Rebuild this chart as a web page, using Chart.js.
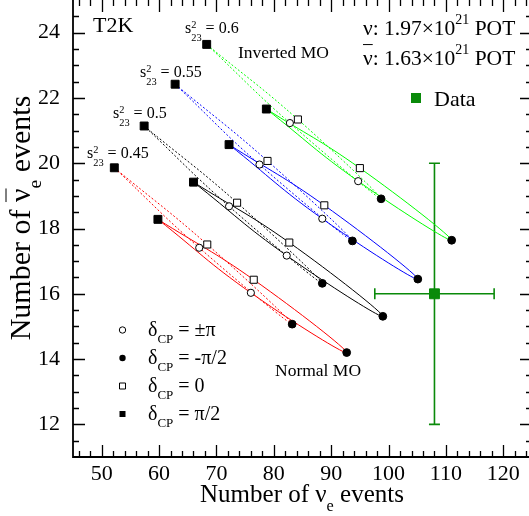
<!DOCTYPE html>
<html>
<head>
<meta charset="utf-8">
<script src="https://cdn.jsdelivr.net/npm/chart.js@4"></script>
<style>
  body { margin: 0; overflow: hidden; background: #fff; }
  #wrap { position: relative; width: 534px; height: 516px; }
</style>
</head>
<body>
<div id="wrap"><canvas id="myChart" width="534" height="516"></canvas></div>
<script>
// axis ticks
const xTicks = [50, 60, 70, 80, 90, 100, 110, 120];
const yTicks = [12, 14, 16, 18, 20, 22, 24];

// sin^2(theta23) values, one curve pair per value
const s23Values = ['0.45', '0.5', '0.55', '0.6'];

// predicted event counts, points ordered by deltaCP = pi/2, 0, -pi/2, +-pi
const nuNormal = [
  [59.8, 76.5, 92.7, 76.0],
  [66.0, 82.7, 99.0, 82.25],
  [72.2, 88.8, 105.1, 88.45],
  [78.7, 95.0, 111.0, 94.7]
];
const nubarNormal = [
  [18.28, 16.43, 14.2, 16.03],
  [19.42, 17.57, 15.31, 17.17],
  [20.57, 18.71, 16.45, 18.30],
  [21.66, 19.85, 17.64, 19.45]
];
const nuInverted = [
  [52.2, 68.4, 83.2, 67.0],
  [57.4, 73.6, 88.45, 72.2],
  [62.8, 78.9, 93.7, 77.5],
  [68.3, 84.2, 98.7, 82.8]
];
const nubarInverted = [
  [19.86, 17.51, 15.07, 17.41],
  [21.14, 18.79, 16.32, 18.68],
  [22.42, 20.07, 17.62, 19.96],
  [23.64, 21.34, 18.91, 21.23]
];

// observed counts
const dataNu = [108];
const dataNubar = [16];
const dataNuErr = [10.4];
const dataNubarErr = [4];

const curveColors = ['#ff0000', '#000000', '#0000ff', '#00ff00'];
const dataColor = '#0a8a0a';
const SERIF = '"Liberation Serif", "Times New Roman", serif';

function font(size) { return size + 'px ' + SERIF; }

// closed curve through the four deltaCP points
function loopPoints(xs, ys) {
  return [0, 1, 2, 3, 0].map(i => ({ x: xs[i], y: ys[i] }));
}
function markerPoints(k) {
  const pts = [];
  for (let i = 0; i < s23Values.length; i++) {
    pts.push({ x: nuNormal[i][k], y: nubarNormal[i][k] });
    pts.push({ x: nuInverted[i][k], y: nubarInverted[i][k] });
  }
  return pts;
}

// text with sub/superscripts and overbars
function segWidth(ctx, s, size) {
  if (typeof s === 'string') s = { t: s };
  if (s.stack) {
    ctx.font = font(size * 0.65);
    return Math.max(ctx.measureText(s.stack[0]).width, ctx.measureText(s.stack[1]).width);
  }
  ctx.font = font(s.sub || s.sup ? size * 0.65 : size);
  return ctx.measureText(s.t).width;
}
function drawRich(ctx, segs, x, y, size, align, barLift) {
  let total = 0;
  segs.forEach(s => total += segWidth(ctx, s, size));
  let cx = align === 'center' ? x - total / 2 : (align === 'right' ? x - total : x);
  ctx.textAlign = 'left';
  ctx.textBaseline = 'alphabetic';
  segs.forEach(s0 => {
    const s = typeof s0 === 'string' ? { t: s0 } : s0;
    const w = segWidth(ctx, s, size);
    if (s.stack) {
      ctx.font = font(size * 0.65);
      ctx.fillText(s.stack[0], cx, y - size * 0.32);
      ctx.fillText(s.stack[1], cx, y + size * 0.5);
    } else {
      ctx.font = font(s.sub || s.sup ? size * 0.65 : size);
      let dy = 0;
      if (s.sub) dy = size * 0.35;
      if (s.sup) dy = -size * 0.5;
      ctx.fillText(s.t, cx, y + dy);
      if (s.bar) {
        ctx.save();
        ctx.lineWidth = 1;
        ctx.beginPath();
        ctx.moveTo(cx, y - size * (barLift || 0.85));
        ctx.lineTo(cx + w, y - size * (barLift || 0.85));
        ctx.stroke();
        ctx.restore();
      }
    }
    cx += w;
  });
}

// frame, inward ticks, error bars and annotations
const decorations = {
  id: 'decorations',
  beforeDatasetsDraw(chart) {
    const { ctx, scales: { x, y } } = chart;
    ctx.save();
    ctx.strokeStyle = dataColor;
    ctx.lineWidth = 1.6;
    for (let i = 0; i < dataNu.length; i++) {
      const px = x.getPixelForValue(dataNu[i]);
      const py = y.getPixelForValue(dataNubar[i]);
      const x0 = x.getPixelForValue(dataNu[i] - dataNuErr[i]);
      const x1 = x.getPixelForValue(dataNu[i] + dataNuErr[i]);
      const y0 = y.getPixelForValue(dataNubar[i] - dataNubarErr[i]);
      const y1 = y.getPixelForValue(dataNubar[i] + dataNubarErr[i]);
      ctx.beginPath();
      ctx.moveTo(x0, py); ctx.lineTo(x1, py);
      ctx.moveTo(px, y0); ctx.lineTo(px, y1);
      ctx.moveTo(x0, py - 5.5); ctx.lineTo(x0, py + 5.5);
      ctx.moveTo(x1, py - 5.5); ctx.lineTo(x1, py + 5.5);
      ctx.moveTo(px - 5.5, y0); ctx.lineTo(px + 5.5, y0);
      ctx.moveTo(px - 5.5, y1); ctx.lineTo(px + 5.5, y1);
      ctx.stroke();
    }
    ctx.restore();
  },
  afterDraw(chart) {
    const { ctx, chartArea: a, scales: { x, y } } = chart;
    ctx.save();
    ctx.strokeStyle = '#000';
    ctx.fillStyle = '#000';
    ctx.lineWidth = 1.8;
    ctx.beginPath();
    ctx.moveTo(a.left, a.top); ctx.lineTo(a.left, a.bottom);
    ctx.lineTo(a.right, a.bottom); ctx.lineTo(a.right, a.top);
    ctx.stroke();

    ctx.lineWidth = 1.3;
    ctx.beginPath();
    for (let v = x.min + 1; v < x.max; v += 2) {
      const px = Math.round(x.getPixelForValue(v)) + 0.5;
      const len = xTicks.includes(v) ? 12 : 6;
      ctx.moveTo(px, a.bottom); ctx.lineTo(px, a.bottom - len);
      ctx.moveTo(px, a.top); ctx.lineTo(px, a.top + len);
    }
    for (let v = y.min + 0.5; v < y.max; v += 0.5) {
      const py = Math.round(y.getPixelForValue(v)) + 0.5;
      const len = yTicks.includes(v) ? 12 : 6;
      ctx.moveTo(a.left, py); ctx.lineTo(a.left + len, py);
      ctx.moveTo(a.right, py); ctx.lineTo(a.right - len, py);
    }
    ctx.stroke();

    // axis titles
    drawRich(ctx, ['Number of ', 'ν', { t: 'e', sub: true }, ' events'], 302, 502, 25, 'center');
    ctx.save();
    ctx.translate(30, 218);
    ctx.rotate(-Math.PI / 2);
    drawRich(ctx, ['Number of ', { t: 'ν', bar: true }, { t: 'e', sub: true }, ' events'], 0, 0, 30, 'center', 0.8);
    ctx.restore();

    // labels
    ctx.font = font(22);
    ctx.textAlign = 'left';
    ctx.fillText('T2K', 93, 32);
    const s23Pos = [[87, 158], [113, 118], [140, 77], [185, 33]];
    s23Values.forEach((v, i) => {
      drawRich(ctx, ['s', { stack: ['2', '23'] }, ' = ' + v], s23Pos[i][0], s23Pos[i][1], 16, 'left');
    });
    drawRich(ctx, ['Inverted MO'], 238, 58, 17.5, 'left');
    drawRich(ctx, ['Normal MO'], 275, 376, 17.5, 'left');
    drawRich(ctx, ['ν: 1.97×10', { t: '21', sup: true }, ' POT'], 363, 35, 21.5, 'left');
    drawRich(ctx, [{ t: 'ν', bar: true }, ': 1.63×10', { t: '21', sup: true }, ' POT'], 363, 65, 21.5, 'left', 0.95);

    // data legend
    ctx.fillStyle = dataColor;
    ctx.fillRect(411, 93, 10, 10);
    ctx.fillStyle = '#000';
    drawRich(ctx, ['Data'], 434, 106, 22, 'left');

    // deltaCP legend
    const rows = [
      { label: '±π', style: 'circle', fill: false },
      { label: '-π/2', style: 'circle', fill: true },
      { label: '0', style: 'rect', fill: false },
      { label: 'π/2', style: 'rect', fill: true }
    ];
    rows.forEach((r, i) => {
      const my = 330 + i * 28;
      ctx.lineWidth = 1;
      ctx.beginPath();
      if (r.style === 'circle') ctx.arc(122.5, my, 3.2, 0, Math.PI * 2);
      else ctx.rect(119.5, my - 3, 6, 6);
      if (r.fill) ctx.fill(); else ctx.stroke();
      drawRich(ctx, ['δ', { t: 'CP', sub: true }, ' = ' + r.label], 148, my + 6, 20, 'left');
    });
    ctx.restore();
  }
};

const datasets = [];
// markers first so they sit on top of the curves
const markerStyles = [
  { style: 'rect', fill: '#000000', r: 5.6 },
  { style: 'rect', fill: '#ffffff', r: 5.0 },
  { style: 'circle', fill: '#000000', r: 3.9 },
  { style: 'circle', fill: '#ffffff', r: 3.6 }
];
markerStyles.forEach((m, k) => {
  datasets.push({
    data: markerPoints(k),
    pointStyle: m.style,
    pointRadius: m.r,
    pointBackgroundColor: m.fill,
    pointBorderColor: '#000000',
    pointBorderWidth: 1,
    showLine: false
  });
});
datasets.push({
  data: dataNu.map((v, i) => ({ x: v, y: dataNubar[i] })),
  pointStyle: 'rect',
  pointRadius: 7,
  pointBackgroundColor: dataColor,
  pointBorderColor: dataColor,
  showLine: false
});
for (let i = 0; i < s23Values.length; i++) {
  datasets.push({
    data: loopPoints(nuNormal[i], nubarNormal[i]),
    showLine: true,
    tension: 0.45,
    borderColor: curveColors[i],
    borderWidth: 1,
    pointRadius: 0
  });
  datasets.push({
    data: loopPoints(nuInverted[i], nubarInverted[i]),
    showLine: true,
    tension: 0.45,
    borderColor: curveColors[i],
    borderWidth: 1,
    borderDash: [2, 2],
    pointRadius: 0
  });
}

// no extra room for edge labels: the frame fills the canvas edge to edge
function noPadding(axis) {
  axis.paddingTop = 0;
  axis.paddingBottom = 0;
  axis.paddingLeft = 0;
  axis.paddingRight = 0;
}

const ctx = document.getElementById('myChart').getContext('2d');
const myChart = new Chart(ctx, {
  type: 'scatter',
  data: { datasets: datasets },
  options: {
    responsive: false,
    animation: false,
    layout: { autoPadding: false, padding: { top: 0, right: 2, left: 0, bottom: 0 } },
    plugins: { legend: { display: false }, tooltip: { enabled: false } },
    scales: {
      x: {
        type: 'linear',
        min: 45,
        max: 125,
        grid: { display: false },
        border: { display: false },
        afterBuildTicks: axis => { axis.ticks = xTicks.map(v => ({ value: v })); },
        afterFit: axis => { axis.height = 59; noPadding(axis); },
        ticks: { color: '#000', font: { family: SERIF, size: 22 }, padding: -4, maxRotation: 0 }
      },
      y: {
        type: 'linear',
        min: 11,
        max: 25,
        grid: { display: false },
        border: { display: false },
        afterBuildTicks: axis => { axis.ticks = yTicks.map(v => ({ value: v })); },
        afterFit: axis => { axis.width = 73; noPadding(axis); },
        ticks: { color: '#000', font: { family: SERIF, size: 22 }, padding: 5 }
      }
    }
  },
  plugins: [decorations]
});
</script>
</body>
</html>
